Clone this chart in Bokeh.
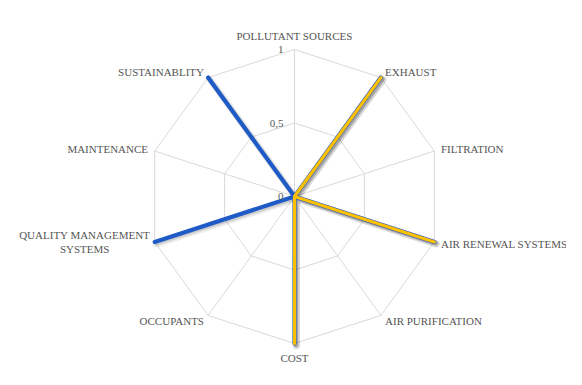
import numpy as np
from bokeh.plotting import figure
from bokeh.models import ColumnDataSource
from bokeh.embed import file_html
from bokeh.resources import INLINE
from bokeh.core.properties import value

categories = ["POLLUTANT SOURCES", "EXHAUST", "FILTRATION", "AIR RENEWAL SYSTEMS",
              "AIR PURIFICATION", "COST", "OCCUPANTS", "QUALITY MANAGEMENT SYSTEMS",
              "MAINTENANCE", "SUSTAINABLITY"]
series_blue = [0, 1, 0, 1, 0, 1, 0, 1, 0, 1]
series_yellow = [0, 1, 0, 1, 0, 1, 0, 0, 0, 0]
tick_values = [0, 0.5, 1]
tick_labels = ["0", "0,5", "1"]

R = 147
W, H = 566, 369
CX, CY = 294, 196
FONT = "Liberation Serif"
TXT = "#555555"

p = figure(width=W, height=H, x_range=(-CX, W - CX), y_range=(-(H - CY), CY),
           output_backend="svg", toolbar_location=None, min_border=0,
           x_axis_type=None, y_axis_type=None)
p.grid.visible = False
p.outline_line_color = None

n = len(categories)
theta = np.pi / 2 - 2 * np.pi * np.arange(n) / n
cos_t, sin_t = np.cos(theta), np.sin(theta)

# grid rings
for lvl in tick_values[1:]:
    xs = list(R * lvl * cos_t) + [R * lvl * cos_t[0]]
    ys = list(R * lvl * sin_t) + [R * lvl * sin_t[0]]
    p.line(xs, ys, line_color="#d9d9d9", line_width=1)
# spokes
p.segment(x0=[0] * n, y0=[0] * n, x1=list(R * cos_t), y1=list(R * sin_t),
          line_color="#d9d9d9", line_width=1)

def series_xy(vals):
    v = np.array(vals + vals[:1], dtype=float)
    c = np.append(cos_t, cos_t[0])
    s = np.append(sin_t, sin_t[0])
    return R * v * c, R * v * s

bx, by = series_xy(series_blue)
yx, yy = series_xy(series_yellow)

# soft shadows
for xs, ys in [(bx, by), (yx, yy)]:
    p.line(xs + 2, ys - 2, line_color="black", line_alpha=0.08, line_width=7,
           line_join="round")
    p.line(xs + 1.5, ys - 1.5, line_color="black", line_alpha=0.12, line_width=4.5,
           line_join="round")

p.line(bx, by, line_color="#1f5bc6", line_width=4.2, line_join="round")
p.line(yx, yy, line_color="#ffc000", line_width=3.2, line_join="round")

# category labels
lx, ly, lt, la, xo, yo = [], [], [], [], [], []
for i, cat in enumerate(categories):
    s, c = sin_t[i], cos_t[i]
    x, y = R * c, R * s
    if cat == "QUALITY MANAGEMENT SYSTEMS":
        for k, part in enumerate(["QUALITY MANAGEMENT", "SYSTEMS"]):
            lx.append(x); ly.append(y); lt.append(part); la.append("center")
            xo.append(-70); yo.append(-7 + 14 * k)
        continue
    if c > 0.1:
        al = "left"
    elif c < -0.1:
        al = "right"
    else:
        al = "center"
    d = 14 if al == "center" else 7
    lx.append(x); ly.append(y); lt.append(cat); la.append(al)
    xo.append(d * c if al != "center" else 0)
    yo.append(-d * s)

src = ColumnDataSource(dict(x=lx, y=ly, text=lt, align=la, xo=xo, yo=yo))
p.text(x="x", y="y", text="text", text_align="align", x_offset="xo", y_offset="yo",
       text_baseline="middle", text_font=value(FONT), text_font_size="11px",
       text_color=TXT, source=src)

# tick labels
p.text(x=[0] * len(tick_values), y=[R * v for v in tick_values], text=tick_labels,
       x_offset=-11, text_align="right", text_baseline="middle",
       text_font=value(FONT), text_font_size="11px", text_color=TXT)

open("out.html", "w").write(file_html(p, INLINE))
